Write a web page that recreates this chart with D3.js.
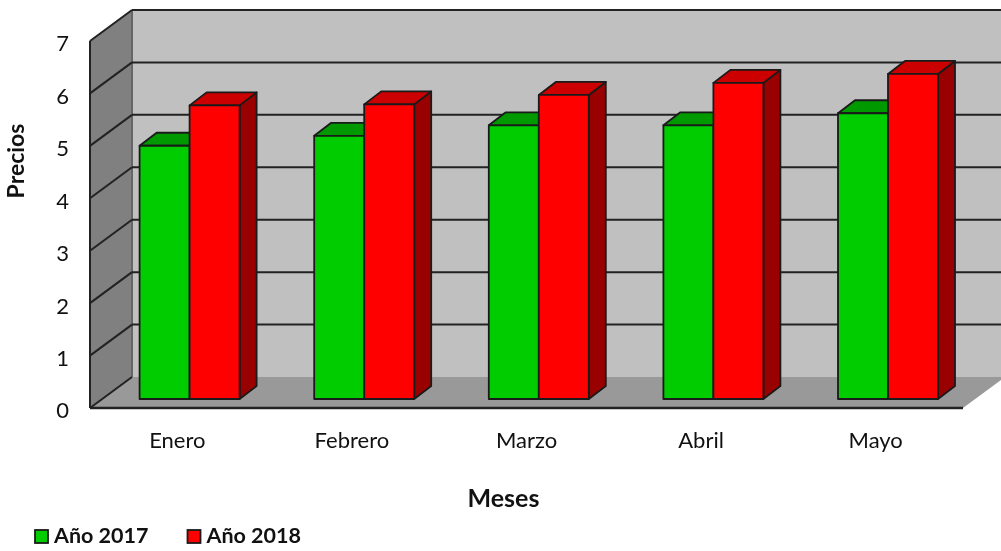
<!DOCTYPE html>
<html>
<head>
<meta charset="utf-8">
<script src="https://cdn.jsdelivr.net/npm/d3@7"></script>
<style>
html, body { margin: 0; padding: 0; background: #fff; }
svg { display: block; filter: blur(0.45px); }
text { font-family: Lato, "Open Sans", sans-serif; fill: #111; }
</style>
</head>
<body>
<div id="chart"></div>
<script>
const months = ["Enero", "Febrero", "Marzo", "Abril", "Mayo"];
const seriesNames = ["Año 2017", "Año 2018"];
const values2017 = [4.83, 5.02, 5.22, 5.22, 5.45];
const values2018 = [5.6, 5.62, 5.8, 6.03, 6.2];
const yTicks = [0, 1, 2, 3, 4, 5, 6, 7];

const width = 1001, height = 551;
const ink = "#222";

const svg = d3.select("#chart").append("svg").attr("width", width).attr("height", height);

// front plane of the 3d box
const x = d3.scaleBand().domain(months).range([90, 963]);
const y = d3.scaleLinear().domain([0, 7]).range([408, 41]);
const inner = d3.scaleBand().domain(seriesNames).range([0, 100]);

const wallDx = 42, wallDy = -31;    // front -> back wall
const barDx = 12.3, barDy = -9;     // front -> bar front
const depthDx = 17, depthDy = -13;  // bar depth

const poly = pts => pts.map(p => p.join(",")).join(" ");
const walls = svg.append("g");

// back wall
walls.append("polygon")
  .attr("points", poly([[90 + wallDx, y(7) + wallDy], [1010, y(7) + wallDy], [1010, y(0) + wallDy], [90 + wallDx, y(0) + wallDy]]))
  .attr("fill", "#c0c0c0");
// left wall
walls.append("polygon")
  .attr("points", poly([[90, y(7)], [90 + wallDx, y(7) + wallDy], [90 + wallDx, y(0) + wallDy], [90, y(0)]]))
  .attr("fill", "#808080");
walls.append("line")
  .attr("x1", 90 + wallDx).attr("x2", 90 + wallDx).attr("y1", y(7) + wallDy).attr("y2", y(0) + wallDy)
  .attr("stroke", "#666").attr("stroke-width", 2);
walls.append("line")
  .attr("x1", 90).attr("x2", 90).attr("y1", y(7)).attr("y2", y(0))
  .attr("stroke", ink).attr("stroke-width", 2);
// floor
walls.append("polygon")
  .attr("points", poly([[90, y(0)], [90 + wallDx, y(0) + wallDy], [963 + wallDx, y(0) + wallDy], [963, y(0)]]))
  .attr("fill", "#999999");
walls.append("line")
  .attr("x1", 90).attr("x2", 963).attr("y1", y(0)).attr("y2", y(0))
  .attr("stroke", ink).attr("stroke-width", 2.5);

// gridlines
yTicks.forEach(t => {
  if (t > 0) {
    walls.append("line")
      .attr("x1", 90 + wallDx).attr("x2", 1010)
      .attr("y1", y(t) + wallDy).attr("y2", y(t) + wallDy)
      .attr("stroke", ink).attr("stroke-width", 2);
  }
  walls.append("line")
    .attr("x1", 90).attr("y1", y(t))
    .attr("x2", 90 + wallDx).attr("y2", y(t) + wallDy)
    .attr("stroke", ink).attr("stroke-width", 2);
});

// bars
const seriesColors = [
  { front: "#00cc00", top: "#009900", side: "#007a00" },
  { front: "#ff0000", top: "#cc0000", side: "#990000" }
];
const barData = [];
months.forEach((m, i) => {
  barData.push({ month: m, series: seriesNames[0], value: values2017[i], colors: seriesColors[0] });
  barData.push({ month: m, series: seriesNames[1], value: values2018[i], colors: seriesColors[1] });
});

const barX = d => x(d.month) + x.bandwidth() / 2 - 50 + barDx + inner(d.series);

const bars = svg.append("g").selectAll("g").data(barData).enter().append("g")
  .attr("stroke", "#1a1a1a").attr("stroke-width", 1.8).attr("stroke-linejoin", "round");

bars.append("polygon")
  .attr("fill", d => d.colors.side)
  .attr("points", d => {
    const x1 = barX(d) + inner.bandwidth(), top = y(d.value) + barDy, bot = y(0) + barDy;
    return poly([[x1, top], [x1 + depthDx, top + depthDy], [x1 + depthDx, bot + depthDy], [x1, bot]]);
  });
bars.append("polygon")
  .attr("fill", d => d.colors.top)
  .attr("points", d => {
    const x0 = barX(d), x1 = x0 + inner.bandwidth(), top = y(d.value) + barDy;
    return poly([[x0, top], [x0 + depthDx, top + depthDy], [x1 + depthDx, top + depthDy], [x1, top]]);
  });
bars.append("rect")
  .attr("fill", d => d.colors.front)
  .attr("x", d => barX(d))
  .attr("y", d => y(d.value) + barDy)
  .attr("width", inner.bandwidth())
  .attr("height", d => y(0) - y(d.value));

// axes text
const yAxis = d3.axisLeft(y).tickValues(yTicks).tickSize(0).tickPadding(21).tickFormat(d3.format("d"));
const yG = svg.append("g").attr("transform", "translate(90,0)").call(yAxis);
yG.select(".domain").remove();
yG.selectAll("text").style("font-size", "22px").attr("dy", "0.36em").attr("y", 2);

const xAxis = d3.axisBottom(x).tickSize(0).tickPadding(24);
const xG = svg.append("g").attr("transform", "translate(0,408)").call(xAxis);
xG.select(".domain").remove();
xG.selectAll("text").style("font-size", "22px").attr("dy", "0.71em");

svg.append("text").attr("transform", "translate(24,161) rotate(-90)")
  .attr("text-anchor", "middle").style("font-size", "23px").style("font-weight", 700).text("Precios");
svg.append("text").attr("x", 503.5).attr("y", 507)
  .attr("text-anchor", "middle").style("font-size", "25px").style("font-weight", 700).text("Meses");

// legend
const legendX = d3.scalePoint().domain(seriesNames).range([35, 187.5]);
const legend = svg.append("g").selectAll("g").data(seriesNames).enter().append("g")
  .attr("transform", d => `translate(${legendX(d)},530)`);
legend.append("rect")
  .attr("width", 13).attr("height", 13)
  .attr("fill", (d, i) => seriesColors[i].front)
  .attr("stroke", "#1a1a1a").attr("stroke-width", 1.8);
legend.append("text").attr("x", 19).attr("y", 13)
  .style("font-size", "21.5px").style("font-weight", 700).text(d => d);
</script>
</body>
</html>
